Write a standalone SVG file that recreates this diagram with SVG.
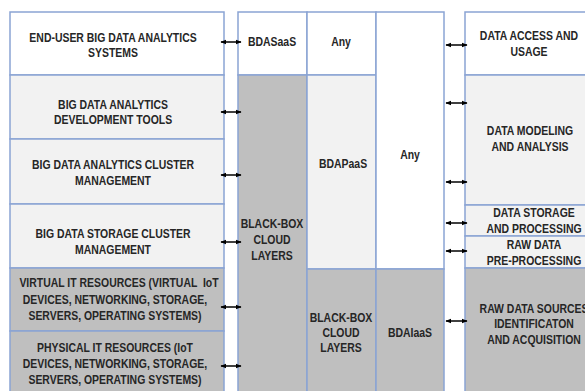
<svg xmlns="http://www.w3.org/2000/svg" width="585" height="391" viewBox="0 0 585 391">
<defs>
<style>
.w{fill:#ffffff}.l{fill:#f2f2f2}.g{fill:#bfbfbf}
.b{stroke:#8aa4d4;stroke-width:1.5}
text{font-family:"Liberation Sans",Arial,sans-serif;font-weight:bold;font-size:12.6px;fill:#262626;text-anchor:middle;transform-box:fill-box;transform-origin:center;transform:scaleX(0.83)}
.c line{stroke:#000;stroke-width:1.5;marker-start:url(#ah);marker-end:url(#ah)}
</style>
<marker id="ah" viewBox="0 0 10 10" refX="9" refY="5" markerWidth="4" markerHeight="4" orient="auto-start-reverse" markerUnits="strokeWidth"><path d="M0,1L10,5L0,9z" fill="#000"/></marker>
</defs>
<rect width="585" height="391" fill="#fff"/>
<g id="left">
<g id="l1"><rect class="w b" x="10" y="12" width="214" height="63"/><text x="113" y="42">END-USER BIG DATA ANALYTICS</text><text x="113" y="57">SYSTEMS</text></g>
<g id="l2"><rect class="l b" x="10" y="75" width="214" height="64"/><text x="113" y="109">BIG DATA ANALYTICS</text><text x="113" y="124">DEVELOPMENT TOOLS</text></g>
<g id="l3"><rect class="l b" x="10" y="139" width="214" height="65"/><text x="113" y="169">BIG DATA ANALYTICS CLUSTER</text><text x="113" y="185">MANAGEMENT</text></g>
<g id="l4"><rect class="l b" x="10" y="204" width="214" height="64"/><text x="113" y="238">BIG DATA STORAGE CLUSTER</text><text x="113" y="254">MANAGEMENT</text></g>
<g id="l5"><rect class="g b" x="10" y="268" width="214" height="63"/><text x="119" y="287" xml:space="preserve">VIRTUAL IT RESOURCES (VIRTUAL  IoT</text><text x="115" y="304">DEVICES, NETWORKING, STORAGE,</text><text x="115" y="320">SERVERS, OPERATING SYSTEMS)</text></g>
<g id="l6"><rect class="g b" x="10" y="331" width="214" height="70"/><text x="115" y="352">PHYSICAL IT RESOURCES (IoT</text><text x="115" y="368">DEVICES, NETWORKING, STORAGE,</text><text x="115" y="384">SERVERS, OPERATING SYSTEMS)</text></g>
</g>
<g id="middle">
<g id="m1"><rect class="w b" x="238" y="12" width="69" height="63"/><text x="272" y="46">BDASaaS</text></g>
<g id="m2"><rect class="g b" x="238" y="75" width="69" height="326"/><text x="272" y="228">BLACK-BOX</text><text x="272" y="244">CLOUD</text><text x="272" y="260">LAYERS</text></g>
<g id="m3"><rect class="w b" x="307" y="12" width="69" height="63"/><text x="341" y="46">Any</text></g>
<g id="m4"><rect class="l b" x="307" y="75" width="69" height="194"/><text x="343" y="168">BDAPaaS</text></g>
<g id="m5"><rect class="g b" x="307" y="269" width="69" height="132"/><text x="341" y="322">BLACK-BOX</text><text x="341" y="337">CLOUD</text><text x="341" y="352">LAYERS</text></g>
<g id="m6"><rect class="w b" x="376" y="12" width="68" height="257"/><text x="410" y="159">Any</text></g>
<g id="m7"><rect class="g b" x="376" y="269" width="68" height="132"/><text x="410" y="337">BDAIaaS</text></g>
</g>
<g id="right">
<g id="r1"><rect class="w b" x="465" y="12" width="130" height="63"/><text x="529" y="40">DATA ACCESS AND</text><text x="529" y="56">USAGE</text></g>
<g id="r2"><rect class="l b" x="465" y="75" width="130" height="130"/><text x="530" y="135">DATA MODELING</text><text x="530" y="151">AND ANALYSIS</text></g>
<g id="r3"><rect class="l b" x="465" y="205" width="130" height="31"/><text x="534" y="217">DATA STORAGE</text><text x="534" y="233">AND PROCESSING</text></g>
<g id="r4"><rect class="l b" x="465" y="236" width="130" height="32"/><text x="534" y="249">RAW DATA</text><text x="534" y="265">PRE-PROCESSING</text></g>
<g id="r5"><rect class="g b" x="465" y="268" width="130" height="133"/><text x="534" y="313">RAW DATA SOURCES</text><text x="534" y="328">IDENTIFICATON</text><text x="534" y="344">AND ACQUISITION</text></g>
</g>
<g id="connectors" class="c">
<line x1="221" y1="42" x2="241" y2="42"/>
<line x1="221" y1="112" x2="241" y2="112"/>
<line x1="221" y1="175" x2="241" y2="175"/>
<line x1="221" y1="242" x2="241" y2="242"/>
<line x1="221" y1="307" x2="241" y2="307"/>
<line x1="221" y1="366" x2="241" y2="366"/>
<line x1="446" y1="45" x2="467" y2="45"/>
<line x1="446" y1="103" x2="467" y2="103"/>
<line x1="446" y1="182" x2="467" y2="182"/>
<line x1="446" y1="223" x2="467" y2="223"/>
<line x1="446" y1="251" x2="467" y2="251"/>
<line x1="446" y1="321" x2="467" y2="321"/>
</g>
</svg>
